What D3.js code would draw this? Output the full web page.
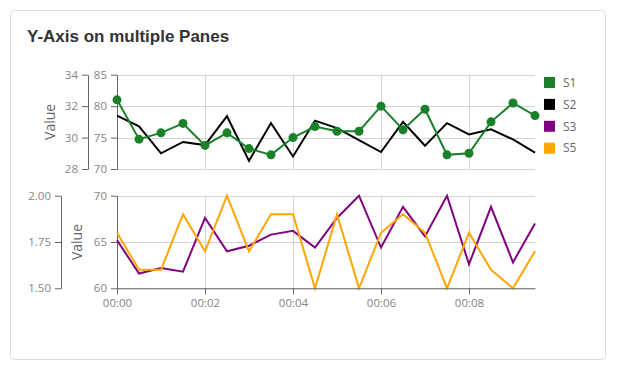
<!DOCTYPE html>
<html>
<head>
<meta charset="utf-8">
<script src="https://cdn.jsdelivr.net/npm/d3@7"></script>
<style>
    body { margin: 0; background: #fff; }
    svg  { display: block; }
    .tick text { font-family: "Open Sans", sans-serif; font-size: 11.5px; fill: #858585; }
    .axis path, .axis line { stroke: #666; }
</style>
</head>
<body>
<svg id="chart" width="617" height="370"></svg>
<script>
"use strict"

// one sample every 30 seconds
var times = ["00:00:00", "00:00:30", "00:01:00", "00:01:30", "00:02:00", "00:02:30",
             "00:03:00", "00:03:30", "00:04:00", "00:04:30", "00:05:00", "00:05:30",
             "00:06:00", "00:06:30", "00:07:00", "00:07:30", "00:08:00", "00:08:30",
             "00:09:00", "00:09:30"];

// top pane: S1 on the 28..34 axis, S2 on the 70..85 axis
var s1 = [32.4, 29.9, 30.3, 30.9, 29.5, 30.3, 29.3, 28.9, 30.0, 30.7,
          30.4, 30.4, 32.0, 30.5, 31.8, 28.9, 29.0, 31.0, 32.2, 31.4];
var s2 = [78.5, 76.8, 72.5, 74.3, 73.8, 78.4, 71.3, 77.3, 72.0, 77.7,
          76.5, 74.6, 72.7, 77.5, 73.7, 77.3, 75.5, 76.3, 74.7, 72.6];

// bottom pane: S3 on the 1.5..2.0 axis, S5 on the 60..70 axis
var s3 = [1.76, 1.58, 1.61, 1.59, 1.88, 1.70, 1.73, 1.79, 1.81, 1.72,
          1.88, 2.00, 1.72, 1.94, 1.78, 2.00, 1.63, 1.94, 1.64, 1.85];
var s5 = [66, 62, 62, 68, 64, 70, 64, 68, 68, 60,
          68, 60, 66, 68, 66, 60, 66, 62, 60, 64];

var topLeftTicks     = [28, 30, 32, 34];
var topRightTicks    = [70, 75, 80, 85];
var bottomLeftTicks  = [1.5, 1.75, 2.0];
var bottomRightTicks = [60, 65, 70];

var legendNames  = ["S1", "S2", "S3", "S5"];
var legendColors = ["#1a8029", "#000000", "#800080", "#ffa500"];

var parseTime = d3.timeParse("%H:%M:%S");
var dates     = times.map(parseTime);

var svg = d3.select("#chart");

svg.append("rect")
    .attr("x", 10.5).attr("y", 10.5)
    .attr("width", 595).attr("height", 349)
    .attr("rx", 4)
    .style("fill", "#fff")
    .style("stroke", "#dcdcdc");

svg.append("text")
    .attr("x", 27).attr("y", 42)
    .attr("font-family", "'Liberation Sans', Arial, sans-serif")
    .attr("font-size", "17px")
    .attr("font-weight", "bold")
    .style("fill", "#333")
    .text("Y-Axis on multiple Panes");

var x = d3.scaleTime()
    .domain([dates[0], dates[dates.length - 1]])
    .range([117, 535]);
var xTicks = d3.timeMinute.every(2).range(dates[0], dates[dates.length - 1]);

function drawPane(top, bottom, leftAxisX, leftDomain, leftTicks, leftFmt,
                  rightDomain, rightTicks, labelX) {
    var yl = d3.scaleLinear().domain(leftDomain).range([bottom, top]);
    var yr = d3.scaleLinear().domain(rightDomain).range([bottom, top]);
    var g  = svg.append("g");

    // grid
    g.selectAll("line.hgrid").data(rightTicks).enter()
        .append("line")
        .attr("class", "hgrid")
        .attr("x1", 117).attr("x2", 535)
        .attr("y1", d => Math.round(yr(d)) + 0.5)
        .attr("y2", d => Math.round(yr(d)) + 0.5)
        .style("stroke", "#d4d4d4");
    g.selectAll("line.vgrid").data(xTicks.slice(1)).enter()
        .append("line")
        .attr("class", "vgrid")
        .attr("x1", d => Math.round(x(d)) + 0.5)
        .attr("x2", d => Math.round(x(d)) + 0.5)
        .attr("y1", top).attr("y2", bottom)
        .style("stroke", "#d4d4d4");

    g.append("g")
        .attr("class", "axis")
        .attr("transform", "translate(" + leftAxisX + ",0)")
        .call(d3.axisLeft(yl).tickValues(leftTicks).tickFormat(leftFmt)
            .tickSizeOuter(0).tickPadding(4));
    g.append("g")
        .attr("class", "axis")
        .attr("transform", "translate(117,0)")
        .call(d3.axisLeft(yr).tickValues(rightTicks).tickFormat(d3.format("d"))
            .tickSizeOuter(0).tickPadding(4));

    g.append("text")
        .attr("transform", "translate(" + labelX + "," + ((top + bottom) / 2) + ") rotate(-90)")
        .attr("text-anchor", "middle")
        .attr("dy", "0.35em")
        .attr("font-family", "'Open Sans', sans-serif")
        .attr("font-size", "14px")
        .style("fill", "#666")
        .text("Value");

    return { yl: yl, yr: yr, g: g };
}

function drawLine(g, values, y, color) {
    var line = d3.line()
        .x((d, i) => x(dates[i]))
        .y(d => y(d));
    g.append("path")
        .datum(values)
        .attr("d", line)
        .style("fill", "none")
        .style("stroke", color)
        .style("stroke-width", 2)
        .style("stroke-linejoin", "miter");
}

var topPane = drawPane(74.7, 169, 88, [28, 34], topLeftTicks, d3.format("d"),
                       [70, 85], topRightTicks, 50);
drawLine(topPane.g, s2, topPane.yr, legendColors[1]);
drawLine(topPane.g, s1, topPane.yl, legendColors[0]);
topPane.g.selectAll("circle.s1").data(s1).enter()
    .append("circle")
    .attr("class", "s1")
    .attr("cx", (d, i) => x(dates[i]))
    .attr("cy", d => topPane.yl(d))
    .attr("r", 4.5)
    .style("fill", legendColors[0]);

var bottomPane = drawPane(195.7, 288.3, 61, [1.5, 2.0], bottomLeftTicks, d3.format(".2f"),
                          [60, 70], bottomRightTicks, 77);
drawLine(bottomPane.g, s3, bottomPane.yl, legendColors[2]);
drawLine(bottomPane.g, s5, bottomPane.yr, legendColors[3]);

var xAxis = svg.append("g")
    .attr("class", "axis")
    .attr("transform", "translate(0,288.3)")
    .call(d3.axisBottom(x).tickValues(xTicks).tickFormat(d3.timeFormat("%H:%M"))
        .tickSizeOuter(0).tickPadding(5));

var legend = svg.append("g").attr("transform", "translate(544,77)");
var item = legend.selectAll("g").data(legendNames).enter()
    .append("g")
    .attr("transform", (d, i) => "translate(0," + (i * 21.9) + ")");
item.append("rect")
    .attr("width", 11).attr("height", 11)
    .style("fill", (d, i) => legendColors[i]);
item.append("text")
    .attr("x", 19).attr("y", 5.5)
    .attr("dy", "0.35em")
    .attr("font-family", "'Open Sans', sans-serif")
    .attr("font-size", "12px")
    .style("fill", "#666")
    .text(d => d);
</script>
</body>
</html>
